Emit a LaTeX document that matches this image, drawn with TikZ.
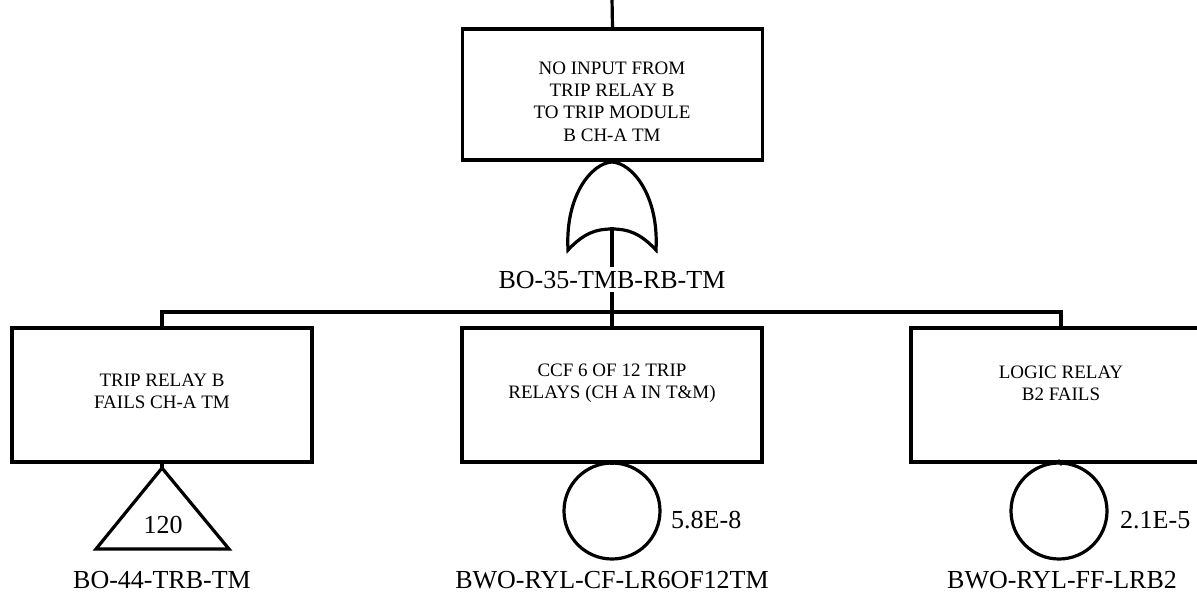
\documentclass[tikz,border=0pt]{standalone}
\usepackage{fontspec}
\setmainfont{Liberation Serif}
\begin{document}
\begin{tikzpicture}[x=1pt,y=-1pt,
  ln/.style={line width=3.2pt,line cap=rect,line join=miter},
  evbox/.style={draw,ln,minimum width=300pt,inner sep=0pt},
  boxtext/.style={align=center,font=\fontsize{19}{22.3}\selectfont,inner sep=0pt},
  lbl/.style={font=\fontsize{26}{30}\selectfont,inner sep=5pt,anchor=base},
  val/.style={font=\fontsize{26}{30}\selectfont,inner sep=0pt,anchor=base west},
  basic/.style={draw,ln,circle,minimum size=96pt,inner sep=0pt}]
\useasboundingbox (0,0) rectangle (1197,595);
\clip (0,0) rectangle (1197,595);
% top event
\coordinate (topin) at (612,-2);
\node[evbox,minimum height=131pt] (top) at (612.5,94.5) {};
\node[boxtext] (toptxt) at (612,101.5) {NO INPUT FROM\\TRIP RELAY B\\TO TRIP MODULE\\B CH-A TM};
\draw[ln] (topin) -- (top.north);
% OR gate
\coordinate (gapex) at (612,162);
\coordinate (gbot) at (612,229);
\draw[ln] (568,250) .. controls (565,195) and (592,163) .. (gapex)
  .. controls (632,163) and (659,195) .. (656,250)
  .. controls (640,233) and (628,229) .. (gbot)
  .. controls (596,229) and (584,233) .. cycle;
\node[lbl] (g35) at (612,288) {BO-35-TMB-RB-TM};
\draw[ln] (gbot) -- (g35.north);
\coordinate (bar) at (612,312);
% children boxes
\node[evbox,minimum height=134pt] (b1) at (162,395) {};
\node[evbox,minimum height=134pt] (b2) at (612,395) {};
\node[evbox,minimum height=134pt] (b3) at (1061,395) {};
\node[boxtext] (t1) at (162,391) {TRIP RELAY B\\FAILS CH-A TM};
\node[boxtext] (t2) at (612,383) {CCF 6 OF 12 TRIP\\RELAYS (CH A IN T\&M)};
\node[boxtext] (t3) at (1061,383) {LOGIC RELAY\\B2 FAILS};
\draw[ln] (g35.south) -- (bar);
\draw[ln] (b1.north) |- (bar) -| (b3.north);
\draw[ln] (bar) -- (b2.north);
% transfer triangle
\coordinate (tri) at (162,468);
\draw[ln] (b1.south) -- (tri);
\draw[ln] (tri) -- (96,549) -- (229,549) -- cycle;
\node[font=\fontsize{26}{30}\selectfont,inner sep=0pt] (t120) at (163,525) {120};
\node[lbl] (l1) at (162,588) {BO-44-TRB-TM};
% basic events
\node[basic] (c2) at (612,511) {};
\node[basic] (c3) at (1059,511) {};
\draw[ln] (b2.south) -- (c2.north);
\draw[ln] (b3.south) -- (c3.north);
\node[val] (v2) at (671,528) {5.8E-8};
\node[val] (v3) at (1120,528) {2.1E-5};
\node[lbl] (l2) at (612,588) {BWO-RYL-CF-LR6OF12TM};
\node[lbl] (l3) at (1062,588) {BWO-RYL-FF-LRB2};
\end{tikzpicture}
\end{document}
